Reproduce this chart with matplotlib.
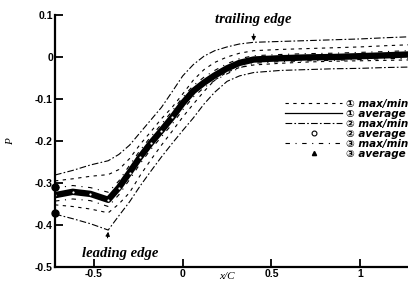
import matplotlib
matplotlib.use("Agg")
import matplotlib.pyplot as plt
from matplotlib.font_manager import FontProperties
from matplotlib.lines import Line2D

# x/C positions
xs = [-0.72, -0.62, -0.52, -0.42, -0.36, -0.30, -0.24, -0.18, -0.12, -0.06, 0.0,
      0.06, 0.12, 0.18, 0.25, 0.32, 0.40, 0.55, 0.70, 0.85, 1.00, 1.15, 1.27]

# average pressure (thick line)
p_avg = [-0.329, -0.321, -0.326, -0.340, -0.311, -0.275, -0.238, -0.205, -0.175, -0.144, -0.110,
         -0.081, -0.061, -0.044, -0.027, -0.014, -0.006, -0.003, -0.001, 0.000, 0.002, 0.004, 0.006]

# case 1 max/min (dashed)
p1_max = [-0.295, -0.290, -0.284, -0.280, -0.268, -0.242, -0.208, -0.178, -0.147, -0.120, -0.088,
          -0.055, -0.030, -0.013, 0.000, 0.009, 0.015, 0.018, 0.020, 0.022, 0.024, 0.027, 0.029]
p1_min = [-0.352, -0.356, -0.362, -0.371, -0.350, -0.323, -0.282, -0.245, -0.210, -0.177, -0.143,
          -0.112, -0.082, -0.055, -0.036, -0.025, -0.019, -0.015, -0.012, -0.010, -0.009, -0.008, -0.007]

# case 2 max/min (dash-dot)
p2_max = [-0.281, -0.270, -0.257, -0.247, -0.232, -0.210, -0.180, -0.150, -0.120, -0.083, -0.045,
          -0.018, 0.002, 0.015, 0.024, 0.031, 0.035, 0.037, 0.039, 0.041, 0.043, 0.046, 0.048]
p2_min = [-0.374, -0.385, -0.397, -0.412, -0.378, -0.345, -0.307, -0.272, -0.238, -0.206, -0.175,
          -0.145, -0.112, -0.084, -0.058, -0.045, -0.037, -0.032, -0.030, -0.028, -0.027, -0.025, -0.024]

# case 3 max/min (sparse dash-dot-dot), close to the average
p3_max = [-0.312, -0.306, -0.311, -0.322, -0.295, -0.258, -0.222, -0.190, -0.160, -0.129, -0.096,
          -0.068, -0.048, -0.032, -0.016, -0.004, 0.003, 0.006, 0.008, 0.009, 0.011, 0.013, 0.015]
p3_min = [-0.343, -0.338, -0.342, -0.356, -0.328, -0.292, -0.254, -0.220, -0.190, -0.160, -0.126,
          -0.095, -0.073, -0.056, -0.040, -0.026, -0.015, -0.011, -0.009, -0.008, -0.006, -0.004, -0.003]

# isolated average points at the left edge
edge_x = [-0.72, -0.72]
edge_y = [-0.310, -0.372]

xticks = [-0.5, 0, 0.5, 1]
xtick_labels = ["-0.5", "0", "0.5", "1"]
yticks = [0.1, 0, -0.1, -0.2, -0.3, -0.4, -0.5]
ytick_labels = ["0.1", "0", "-0.1", "-0.2", "-0.3", "-0.4", "-0.5"]

legend_labels = ["\u2460 max/min", "\u2460 average", "\u2461 max/min",
                 "\u2461 average", "\u2462 max/min", "\u2462 average"]

ls1 = (0, (3, 4))
ls2 = (0, (6, 2, 1.5, 2))
ls3 = (0, (4, 5, 1, 5))

fig = plt.figure(figsize=(4.08, 2.84), dpi=100)
ax = fig.add_axes([55 / 408, 17 / 284, 353 / 408, 252 / 284])

ax.plot(xs, p1_max, color="black", lw=0.8, ls=ls1)
ax.plot(xs, p1_min, color="black", lw=0.8, ls=ls1)
ax.plot(xs, p2_max, color="black", lw=0.8, ls=ls2)
ax.plot(xs, p2_min, color="black", lw=0.8, ls=ls2)
ax.plot(xs, p3_max, color="black", lw=0.8, ls=ls3)
ax.plot(xs, p3_min, color="black", lw=0.8, ls=ls3)
ax.plot(xs, p_avg, color="black", lw=4.6, solid_capstyle="round")
ax.plot(xs[:10], p_avg[:10], ls="none", marker="o", ms=1.6, mfc="white", mec="white", mew=0)
ax.plot(edge_x, edge_y, ls="none", marker="o", ms=5, color="black", clip_on=False)

ax.set_xlim(-0.72, 1.27)
ax.set_ylim(-0.5, 0.1)
for s in ["top", "right"]:
    ax.spines[s].set_visible(False)
for s in ["left", "bottom"]:
    ax.spines[s].set_linewidth(1.6)

tick_font = FontProperties(family="Liberation Sans", weight="bold", size=7.5)
ax.set_xticks(xticks)
ax.set_xticklabels(xtick_labels, fontproperties=tick_font)
ax.set_yticks(yticks)
ax.set_yticklabels(ytick_labels, fontproperties=tick_font)
ax.tick_params(direction="in", length=6, width=1.3, pad=1.5)

ax.set_xlabel("x/C", fontsize=8, style="italic", family="Liberation Serif", va="center")
ax.xaxis.set_label_coords(0.487, -0.036)
ax.set_ylabel("P", fontsize=8, style="italic", family="Liberation Serif", va="center")
ax.yaxis.set_label_coords(-0.127, 0.496)

ann_font = dict(family="Liberation Serif", weight="bold", style="italic", size=10.5)
ax.annotate("trailing edge", xy=(0.40, 0.038), xytext=(0.40, 0.09),
            ha="center", va="center", **ann_font,
            arrowprops=dict(arrowstyle="-|>", color="black", lw=0.8, mutation_scale=6,
                            shrinkA=4, shrinkB=0))
ax.annotate("leading edge", xy=(-0.42, -0.416), xytext=(-0.353, -0.469),
            ha="center", va="center", **ann_font,
            arrowprops=dict(arrowstyle="-|>", color="black", lw=0.8, mutation_scale=6,
                            shrinkA=5, shrinkB=0, relpos=(0.32, 1.0)))

handles = [
    Line2D([], [], color="black", lw=0.8, ls=ls1),
    Line2D([], [], color="black", lw=0.9),
    Line2D([], [], color="black", lw=0.8, ls=ls2),
    Line2D([], [], ls="none", marker="o", ms=3.5, mfc="white", mec="black", mew=0.8),
    Line2D([], [], color="black", lw=0.8, ls=ls3),
    Line2D([], [], ls="none", marker="^", ms=3, color="black"),
]
leg_font = FontProperties(family=["DejaVu Sans", "Noto Sans CJK SC"], weight="bold",
                          style="italic", size=7.5)
ax.legend(handles, legend_labels, loc="upper left", bbox_to_anchor=(285 / 408, 1 - 99 / 284),
          bbox_transform=fig.transFigure, frameon=False, prop=leg_font,
          handlelength=5.5, handletextpad=0.4, labelspacing=0.0, borderpad=0,
          borderaxespad=0)

fig.savefig("out.png", dpi=100)
